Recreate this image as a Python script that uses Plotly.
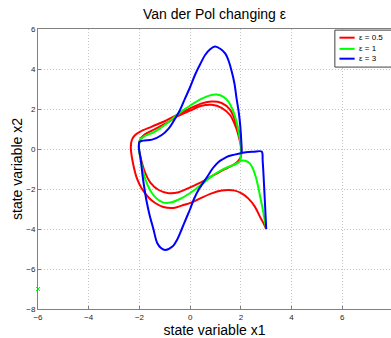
import plotly.graph_objects as go

# Phase-plane trajectories of the Van der Pol oscillator, all started at (3, -4)
eps_labels = ["\u03b5 = 0.5", "\u03b5 = 1", "\u03b5 = 3"]
line_colors = ["#ff0000", "#00ff00", "#0000ff"]

# epsilon = 0.5 : spirals inward onto the limit cycle
x1_eps05 = [3.0, 2.88, 2.75, 2.55, 2.29, 2.03, 1.77, 1.5, 1.24, 0.85, 0.46, 0.06, -0.33, -0.66,
            -1.06, -1.38, -1.62, -1.91, -2.1, -2.24, -2.33, -2.34, -2.3, -2.17, -1.97, -1.51,
            -0.99, -0.5, 0.0, 0.46, 0.85, 1.24, 1.57, 1.83, 1.97, 2.02,
            1.98, 1.8, 1.51, 1.2, 0.9, 0.5, 0.0, -0.45, -0.85, -1.24, -1.57, -1.8, -1.95, -2.02,
            -1.98, -1.8, -1.51, -1.2, -0.9, -0.5, 0.0, 0.45, 0.85, 1.24, 1.57, 1.8, 1.95, 2.02,
            1.98, 1.8]
x2_eps05 = [-4.0, -3.68, -3.38, -2.88, -2.47, -2.22, -2.08, -2.05, -2.08, -2.22, -2.43, -2.67, -2.83, -2.95,
            -2.9, -2.7, -2.45, -1.97, -1.47, -0.8, -0.13, 0.1, 0.45, 0.7, 0.87, 1.12,
            1.4, 1.72, 2.03, 2.28, 2.37, 2.3, 1.97, 1.25, 0.6, 0.0,
            -0.45, -0.72, -0.92, -1.12, -1.32, -1.62, -1.92, -2.16, -2.21, -2.05, -1.68, -1.1, -0.45, 0.0,
            0.45, 0.72, 0.92, 1.12, 1.32, 1.64, 1.92, 2.16, 2.21, 2.06, 1.7, 1.1, 0.45, 0.0,
            -0.45, -0.72]

# epsilon = 1
x1_eps1 = [3.0, 2.93, 2.86, 2.78, 2.7, 2.6, 2.48, 2.35, 2.2, 2.08, 1.96,
           1.8, 1.5, 1.2, 0.9, 0.6, 0.3, 0.0, -0.4, -0.78, -1.05, -1.3, -1.51, -1.68, -1.82, -1.92, -2.0, -2.02,
           -1.98, -1.8, -1.5, -1.2, -0.9, -0.6, -0.3, 0.0, 0.4, 0.78, 1.05, 1.3, 1.5, 1.68, 1.82, 1.92, 1.99,
           2.0, 1.96, 1.8, 1.5]
x2_eps1 = [-4.0, -3.5, -3.0, -2.5, -2.0, -1.45, -1.0, -0.72, -0.6, -0.58, -0.62,
           -0.75, -0.9, -1.08, -1.32, -1.62, -1.92, -2.2, -2.5, -2.68, -2.68, -2.5, -2.2, -1.8, -1.3, -0.75, -0.2, 0.0,
           0.45, 0.64, 0.8, 1.02, 1.3, 1.62, 1.92, 2.17, 2.48, 2.68, 2.72, 2.62, 2.38, 1.95, 1.4, 0.8, 0.2,
           -0.2, -0.62, -0.75, -0.9]

# epsilon = 3 : relaxation oscillation
x1_eps3 = [3.0, 2.93, 2.86, 2.82, 2.5, 2.2, 2.03, 1.75, 1.5, 1.3, 1.11, 0.9, 0.72, 0.5, 0.35, 0.15, 0.0,
           -0.15, -0.33, -0.5, -0.7, -0.98, -1.15, -1.3, -1.45, -1.6, -1.72, -1.8, -1.88, -1.95, -2.02,
           -2.0, -1.85, -1.5, -1.12, -0.85, -0.59, -0.4, -0.2, 0.0, 0.19, 0.4, 0.59, 0.8, 0.98, 1.2, 1.38,
           1.52, 1.64, 1.75, 1.83, 1.92, 1.98, 2.02, 2.03]
x2_eps3 = [-4.0, -2.2, -0.6, -0.13, -0.14, -0.16, -0.2, -0.28, -0.36, -0.5, -0.66, -0.95, -1.3, -1.72, -2.0, -2.5, -3.0,
           -3.45, -4.0, -4.5, -4.88, -5.05, -4.95, -4.7, -4.0, -3.3, -2.6, -2.0, -1.3, -0.5, 0.05,
           0.35, 0.42, 0.47, 0.7, 1.02, 1.53, 1.95, 2.53, 3.1, 3.7, 4.25, 4.7, 5.0, 5.12, 5.0, 4.78,
           4.4, 3.87, 3.25, 2.53, 1.8, 1.1, 0.3, -0.2]

# stray point plotted at the lower-left edge
stray_x = [-6.0]
stray_y = [-7.0]

x_ticks = [-6, -4, -2, 0, 2, 4, 6, 8]
y_ticks = [-8, -6, -4, -2, 0, 2, 4, 6]

FONT = "Liberation Sans, Arial, Helvetica, sans-serif"

fig = go.Figure()
for xs, ys, col, lab in [(x1_eps05, x2_eps05, line_colors[0], eps_labels[0]),
                         (x1_eps1, x2_eps1, line_colors[1], eps_labels[1]),
                         (x1_eps3, x2_eps3, line_colors[2], eps_labels[2])]:
    fig.add_trace(go.Scatter(x=xs, y=ys, mode="lines", name=lab,
                             line=dict(color=col, width=2, shape="spline", smoothing=0.9),
                             showlegend=False))

fig.add_trace(go.Scatter(x=stray_x, y=stray_y, mode="markers", showlegend=False,
                         marker=dict(symbol="x-thin", size=4, line=dict(color="#00ff00", width=1)),
                         cliponaxis=False))

axis_common = dict(showgrid=True, gridcolor="#c4c4c4", griddash="1px,2px", gridwidth=1,
                   showline=True, linecolor="#808080", linewidth=1,
                   ticks="inside", ticklen=3, tickcolor="#808080",
                   zeroline=False, tickfont=dict(family=FONT, size=8, color="#262626"))

fig.update_xaxes(range=[-6, 7.92], tickvals=x_ticks, mirror=True,
                 title=dict(text="state variable x1", font=dict(family=FONT, size=14, color="#000"),
                            standoff=2),
                 automargin=False, **axis_common)
fig.update_yaxes(range=[-8, 6], tickvals=y_ticks, mirror=False,
                 title=dict(text="state variable x2", font=dict(family=FONT, size=14, color="#000"),
                            standoff=0),
                 automargin=False, **axis_common)

# legend box drawn in paper coordinates
shapes = [dict(type="rect", xref="paper", yref="paper", x0=0.841, x1=1.05, y0=0.864, y1=0.996,
               line=dict(color="#404040", width=1), fillcolor="white", layer="above")]
annotations = []
legend_rows = [0.969, 0.929, 0.894]
for yrow, col, lab in zip(legend_rows, line_colors, eps_labels):
    shapes.append(dict(type="line", xref="paper", yref="paper", x0=0.854, x1=0.897, y0=yrow, y1=yrow,
                       line=dict(color=col, width=2), layer="above"))
    annotations.append(dict(xref="paper", yref="paper", x=0.905, y=yrow, text=lab, showarrow=False,
                            xanchor="left", yanchor="middle",
                            font=dict(family=FONT, size=8, color="#000")))

fig.update_layout(
    width=391, height=338,
    margin=dict(l=38, r=0, t=29, b=29),
    paper_bgcolor="white", plot_bgcolor="white",
    title=dict(text="Van der Pol changing \u03b5", xref="paper", x=0.5, xanchor="center",
               yref="container", y=1 - 14 / 338, yanchor="middle",
               font=dict(family=FONT, size=14, color="#000")),
    shapes=shapes, annotations=annotations,
)

fig.write_html("out.html")
